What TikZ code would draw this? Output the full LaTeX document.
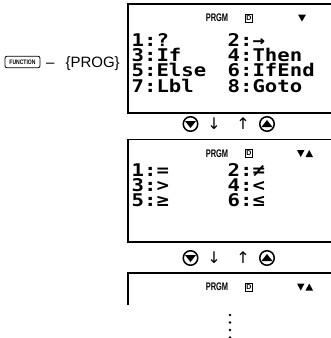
\documentclass[tikz,border=0pt]{standalone}
\usepackage{fontspec}
\usepackage{graphicx}
\setmainfont{Liberation Sans}
\newfontfamily\lcd[FakeStretch=1.18]{DejaVu Sans Mono}
\newfontfamily\djv{DejaVu Sans}
\begin{document}
\begin{tikzpicture}[x=1pt,y=-1pt,
  scr/.style={line width=1.4pt},
  lcdtext/.style={anchor=base west,inner sep=0pt,text height=12.5pt,text depth=0pt,font=\lcd\bfseries\fontsize{17.5}{17.5}\selectfont},
  status/.style={inner sep=0pt,font=\bfseries\fontsize{11}{11}\selectfont},
  dicon/.style={draw,line width=0.9pt,inner sep=0pt,minimum width=7.5pt,minimum height=8pt,font=\bfseries\fontsize{7}{7}\selectfont},
  keyicon/.style={circle,draw,line width=1.5pt,minimum size=14.5pt,inner sep=0pt},
  arrowtext/.style={inner sep=0pt,font=\djv\fontsize{16}{16}\selectfont},
  dot/.style={circle,fill=black,inner sep=0pt,minimum size=2.6pt}]
\clip (0,0) rectangle (331,338);

% key + label
\node[draw,rounded corners=2pt,line width=0.8pt,minimum width=35pt,minimum height=11.5pt,inner sep=0pt,
      font=\bfseries\fontsize{6.5}{6.5}\selectfont] (fn) at (22.5,62) {\scalebox{0.78}[1]{FUNCTION}};
\node[anchor=base west,inner sep=0pt,font=\fontsize{15}{15}\selectfont] (prog) at (46,67) {–\hspace{11pt}\{PROG\}};

% screen 1
\draw[scr] (340,4) -- (128,4) -- (128,113) -- (340,113);
\node[status] (p1) at (217,18) {\scalebox{0.68}[1]{PRGM}};
\node[dicon] (d1) at (249,18) {D};
\fill (298,14.5) -- (306,14.5) -- (302,21.5) -- cycle;
\node[lcdtext] (a1) at (131.5,46.5) {1:?};
\node[lcdtext] (a2) at (227.5,46.5) {2:→};
\node[lcdtext] (a3) at (131.5,61.7) {3:If};
\node[lcdtext] (a4) at (227.5,61.7) {4:Then};
\node[lcdtext] (a5) at (131.5,76.9) {5:Else};
\node[lcdtext] (a6) at (227.5,76.9) {6:IfEnd};
\node[lcdtext] (a7) at (131.5,92.1) {7:Lbl};
\node[lcdtext] (a8) at (227.5,92.1) {8:Goto};

% scroll row 1
\node[keyicon] (kd1) at (190.5,124) {};
\fill (185,121) -- (196,121) -- (190.5,128) -- cycle;
\node[arrowtext] (dn1) at (214,124) {↓};
\node[arrowtext] (up1) at (243,124) {↑};
\node[keyicon] (ku1) at (267,124) {};
\fill (261.5,127) -- (272.5,127) -- (267,120) -- cycle;

% screen 2
\draw[scr] (340,139.5) -- (128,139.5) -- (128,242) -- (340,242);
\node[status] (p2) at (217,153.5) {\scalebox{0.68}[1]{PRGM}};
\node[dicon] (d2) at (249,153.5) {D};
\fill (297,150) -- (304.5,150) -- (300.75,157) -- cycle;
\fill (305.5,157) -- (313,157) -- (309.25,150) -- cycle;
\node[lcdtext] (b1) at (131.5,176) {1:=};
\node[lcdtext] (b2) at (227.5,176) {2:≠};
\node[lcdtext] (b3) at (131.5,191.2) {3:>};
\node[lcdtext] (b4) at (227.5,191.2) {4:<};
\node[lcdtext] (b5) at (131.5,206.4) {5:≥};
\node[lcdtext] (b6) at (227.5,206.4) {6:≤};

% scroll row 2
\node[keyicon] (kd2) at (190.5,258) {};
\fill (185,255) -- (196,255) -- (190.5,262) -- cycle;
\node[arrowtext] (dn2) at (214,258) {↓};
\node[arrowtext] (up2) at (243,258) {↑};
\node[keyicon] (ku2) at (267,258) {};
\fill (261.5,261) -- (272.5,261) -- (267,254) -- cycle;

% screen 3
\draw[scr] (340,273) -- (128,273) -- (128,305);
\node[status] (p3) at (217,287) {\scalebox{0.68}[1]{PRGM}};
\node[dicon] (d3) at (249,287) {D};
\fill (297,283.5) -- (304.5,283.5) -- (300.75,290.5) -- cycle;
\fill (305.5,290.5) -- (313,290.5) -- (309.25,283.5) -- cycle;

% continuation dots
\node[dot] (v1) at (230,315) {};
\node[dot] (v2) at (230,322.5) {};
\node[dot] (v3) at (230,330) {};
\node[dot] (v4) at (230,337.5) {};
\end{tikzpicture}
\end{document}
